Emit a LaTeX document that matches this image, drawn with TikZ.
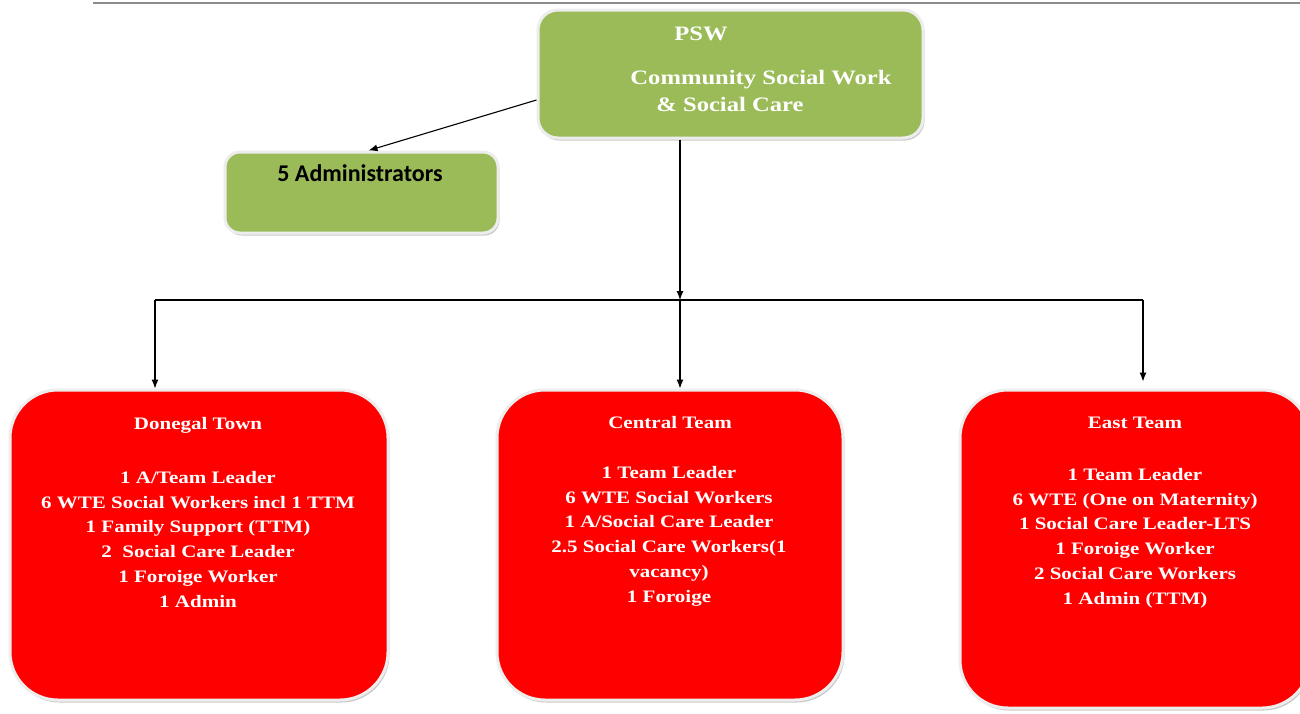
\documentclass[tikz,border=0pt]{standalone}
\usepackage{fontspec}
\newfontfamily\teamfont[FakeStretch=1.2]{Liberation Serif}
\newfontfamily\adminfont{Carlito}
\usetikzlibrary{arrows.meta,shadows,calc}
\definecolor{psgreen}{HTML}{9BBB59}
\definecolor{psred}{HTML}{FF0000}
\begin{document}
\begin{tikzpicture}[x=1pt,y=-1pt,
  box/.style={draw=black!7, line width=3pt,
    drop shadow={shadow xshift=1.5pt,shadow yshift=-2.5pt,fill=black!35,opacity=0.6}},
  greenbox/.style={box, fill=psgreen, rounded corners=20pt},
  redbox/.style={box, fill=psred, rounded corners=48pt},
  arr/.style={draw=black, line width=1.1pt, -{Latex[length=9pt,width=7pt]}},
  conn/.style={draw=black, line width=1.1pt},
  toptxt/.style={text=white, font=\teamfont\bfseries\fontsize{20.5}{26}\selectfont, inner sep=0pt, anchor=base},
  teamtxt/.style={text=white, font=\teamfont\bfseries\fontsize{17.5}{24.8}\selectfont, align=center, inner sep=0pt},
  admintxt/.style={text=black, font=\adminfont\bfseries\fontsize{24}{28}\selectfont, inner sep=0pt, anchor=base},
]
\clip (0,0) rectangle (1300,713);
\fill[white] (0,0) rectangle (1300,713);
\draw[black!45, line width=2pt] (93,3) -- (1300,3);

% boxes
\node[greenbox, minimum width=385pt, minimum height=128pt] (psw) at (730.5,74) {};
\node[greenbox, rounded corners=15pt, minimum width=273pt, minimum height=81pt] (admin) at (361.5,192.5) {};
\node[redbox, minimum width=378pt, minimum height=310pt] (donegal) at (199,545) {};
\node[redbox, minimum width=346pt, minimum height=310pt] (central) at (670,545) {};
\node[redbox, minimum width=350pt, minimum height=318pt] (east) at (1135,549) {};

% texts
\node[toptxt] (pswt) at (701,40.8) {PSW};
\node[toptxt] (pswc) at (761,84.8) {Community Social Work};
\node[toptxt] (psws) at (730,111.8) {\& Social Care};
\node[admintxt] (admint) at (360,181.7) {5 Administrators};

\node[teamtxt, anchor=base] (dt) at (198,429.8) {Donegal Town};
\node[teamtxt, anchor=north] (db) at (198,471) {1 A/Team Leader\\6 WTE Social Workers incl 1 TTM\\1 Family Support (TTM)\\2\ \ Social Care Leader\\1 Foroige Worker\\1 Admin};
\node[teamtxt, anchor=base] (ct) at (670,428.8) {Central Team};
\node[teamtxt, anchor=north] (cb) at (669,466) {1 Team Leader\\6 WTE Social Workers\\1 A/Social Care Leader\\2.5 Social Care Workers(1\\vacancy)\\1 Foroige};
\node[teamtxt, anchor=base] (et) at (1135,428.8) {East Team};
\node[teamtxt, anchor=north] (eb) at (1135,468) {1 Team Leader\\6 WTE (One on Maternity)\\1 Social Care Leader-LTS\\1 Foroige Worker\\2 Social Care Workers\\1 Admin (TTM)};

% connectors
\coordinate (hub) at (680,300);
\coordinate (lc) at (155,300);
\coordinate (rc) at (1143,300);
\draw[arr] ($(psw.west)+(0,26)$) -- ($(admin.north)+(7,0)$);
\draw[arr] (psw.south -| hub) -- (hub);
\draw[conn] (lc) -- (rc);
\draw[arr] (lc) -- (lc |- donegal.north);
\draw[arr] (hub) -- (hub |- central.north);
\draw[arr] (rc) -- ($(rc |- east.north)+(0,-7)$);
\end{tikzpicture}
\end{document}
